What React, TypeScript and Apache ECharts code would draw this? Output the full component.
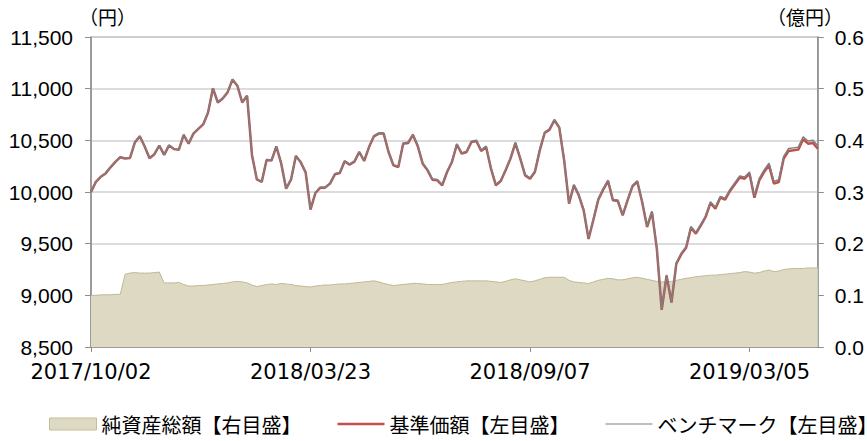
import React, { useEffect, useRef } from 'react';
import * as echarts from 'echarts';

const tickLabels = ['2017/10/02', '2018/03/23', '2018/09/07', '2019/03/05'];
const TICK_STEP = 45;

const nav = [
  10000, 10098, 10147, 10180, 10239, 10291, 10337, 10324, 10330, 10480,
  10539, 10441, 10327, 10366, 10448, 10359, 10451, 10415, 10408, 10552,
  10467, 10565, 10611, 10654, 10770, 11003, 10866, 10905, 10964, 11088,
  11029, 10866, 10931, 10359, 10121, 10098, 10310, 10304, 10440, 10274,
  10032, 10119, 10348, 10287, 10190, 9830, 9990, 10042, 10042, 10081,
  10171, 10184, 10297, 10265, 10294, 10387, 10300, 10435, 10539, 10565,
  10565, 10387, 10258, 10242, 10468, 10474, 10552, 10442, 10274, 10210,
  10119, 10113, 10065, 10194, 10290, 10460, 10371, 10387, 10484, 10494,
  10397, 10436, 10226, 10065, 10106, 10210, 10323, 10474, 10323, 10161,
  10129, 10194, 10403, 10571, 10603, 10694, 10623, 10306, 9887, 10065,
  9968, 9823, 9545, 9732, 9926, 10023, 10106, 9919, 9913, 9774,
  9919, 10055, 10100, 9900, 9661, 9806, 9450, 8860, 9190, 8930,
  9306, 9397, 9461, 9655, 9597, 9674, 9758, 9894, 9839, 9945,
  9926, 10010, 10074, 10139, 10129, 10177, 9945, 10113, 10194, 10258,
  10081, 10097, 10323, 10397, 10403, 10410, 10510, 10468, 10474, 10419,
];

const benchmark = [
  10000, 10100, 10148, 10183, 10240, 10293, 10340, 10326, 10333, 10482,
  10542, 10443, 10330, 10368, 10451, 10361, 10454, 10418, 10410, 10555,
  10470, 10568, 10614, 10656, 10774, 11006, 10869, 10908, 10967, 11092,
  11032, 10870, 10934, 10362, 10125, 10101, 10314, 10307, 10444, 10278,
  10036, 10123, 10352, 10291, 10194, 9835, 9995, 10046, 10047, 10086,
  10176, 10189, 10302, 10270, 10299, 10392, 10305, 10440, 10545, 10571,
  10571, 10393, 10264, 10248, 10474, 10481, 10559, 10449, 10281, 10217,
  10126, 10120, 10072, 10201, 10297, 10467, 10378, 10395, 10492, 10502,
  10405, 10444, 10234, 10073, 10114, 10218, 10331, 10482, 10331, 10169,
  10137, 10202, 10411, 10579, 10611, 10702, 10631, 10314, 9895, 10073,
  9976, 9831, 9554, 9741, 9935, 10032, 10115, 9928, 9922, 9783,
  9928, 10064, 10109, 9909, 9670, 9815, 9459, 8862, 9199, 8933,
  9316, 9407, 9471, 9666, 9608, 9686, 9770, 9906, 9852, 9958,
  9940, 10025, 10089, 10155, 10145, 10194, 9963, 10131, 10213, 10278,
  10101, 10118, 10345, 10420, 10427, 10434, 10535, 10494, 10500, 10448,
];

const netAssets = [
  0.100, 0.100, 0.101, 0.101, 0.101, 0.102, 0.102, 0.141, 0.143, 0.144,
  0.143, 0.143, 0.143, 0.144, 0.145, 0.124, 0.124, 0.124, 0.125, 0.121,
  0.118, 0.118, 0.119, 0.119, 0.120, 0.121, 0.122, 0.123, 0.124, 0.126,
  0.127, 0.126, 0.124, 0.120, 0.117, 0.119, 0.121, 0.122, 0.121, 0.123,
  0.122, 0.121, 0.119, 0.118, 0.117, 0.116, 0.118, 0.119, 0.120, 0.120,
  0.121, 0.122, 0.122, 0.123, 0.124, 0.125, 0.126, 0.127, 0.128, 0.126,
  0.123, 0.121, 0.119, 0.120, 0.121, 0.122, 0.123, 0.123, 0.122, 0.121,
  0.121, 0.121, 0.121, 0.123, 0.125, 0.126, 0.127, 0.128, 0.128, 0.128,
  0.128, 0.128, 0.127, 0.126, 0.125, 0.127, 0.130, 0.132, 0.130, 0.128,
  0.126, 0.128, 0.131, 0.134, 0.135, 0.135, 0.135, 0.135, 0.129, 0.126,
  0.125, 0.124, 0.123, 0.126, 0.129, 0.131, 0.133, 0.132, 0.130, 0.130,
  0.132, 0.134, 0.135, 0.133, 0.131, 0.129, 0.127, 0.126, 0.126, 0.127,
  0.129, 0.131, 0.133, 0.134, 0.136, 0.137, 0.138, 0.139, 0.139, 0.140,
  0.141, 0.142, 0.143, 0.144, 0.146, 0.145, 0.143, 0.144, 0.147, 0.149,
  0.146, 0.147, 0.150, 0.151, 0.152, 0.152, 0.152, 0.153, 0.153, 0.153,
];

const categories = nav.map((_, i) => String(i));

const seriesNames = ['純資産総額【右目盛】', '基準価額【左目盛】', 'ベンチマーク【左目盛】'];

const AXIS_GRAY = '#8C8C8C';

export default function App() {
  const ref = useRef<HTMLDivElement>(null);
  useEffect(() => {
    const chart = echarts.init(ref.current!, null, { renderer: 'svg' });
    chart.setOption({
      animation: false,
      backgroundColor: '#ffffff',
      grid: {
        left: 91,
        right: 45,
        top: 37,
        bottom: 94,
        show: true,
        borderColor: AXIS_GRAY,
        borderWidth: 1,
        containLabel: false,
      },
      graphic: [
        {
          type: 'text',
          left: 79,
          top: 7,
          style: { text: '（円）', fontSize: 19, fontFamily: 'Noto Sans CJK JP', fill: '#000' },
        },
        {
          type: 'text',
          left: 767,
          top: 7,
          style: { text: '（億円）', fontSize: 19, fontFamily: 'Noto Sans CJK JP', fill: '#000' },
        },
      ],
      legend: {
        left: 44,
        top: 409,
        width: 900,
        itemWidth: 47,
        itemHeight: 12,
        itemGap: 36,
        textStyle: { fontSize: 20, fontFamily: 'Noto Sans CJK JP', color: '#000' },
        data: [
          { name: seriesNames[0], icon: 'rect', itemStyle: { color: '#DDD9C3', borderColor: '#C4BD97', borderWidth: 1 } },
          { name: seriesNames[1], icon: 'path://M0,0H40V2H0Z', itemStyle: { color: '#C0504D', borderWidth: 0 } },
          { name: seriesNames[2], icon: 'path://M0,0H50V1.3H0Z', itemStyle: { color: '#7F7F7F', borderWidth: 0 } },
        ],
      },
      xAxis: {
        type: 'category',
        data: categories,
        boundaryGap: false,
        axisLine: { show: true, lineStyle: { color: AXIS_GRAY, width: 1.5 } },
        axisTick: { show: true, interval: TICK_STEP - 1, length: 5, lineStyle: { color: AXIS_GRAY } },
        axisLabel: {
          interval: TICK_STEP - 1,
          formatter: (_v: string, idx: number) => tickLabels[idx / TICK_STEP] ?? '',
          fontSize: 21,
          fontFamily: 'DejaVu Sans',
          color: '#000',
          margin: 14,
        },
        splitLine: { show: false },
      },
      yAxis: [
        {
          type: 'value',
          position: 'left',
          min: 8500,
          max: 11500,
          interval: 500,
          axisLine: { show: true, lineStyle: { color: AXIS_GRAY, width: 1.5 } },
          axisTick: { show: true, length: 6, lineStyle: { color: AXIS_GRAY } },
          axisLabel: {
            formatter: (v: number) => v.toLocaleString('en-US'),
            fontSize: 21,
            fontFamily: 'Liberation Sans',
            color: '#000',
            margin: 18,
          },
          splitLine: { show: true, lineStyle: { color: '#D0D0D0', width: 1.5 } },
        },
        {
          type: 'value',
          position: 'right',
          min: 0,
          max: 0.6,
          interval: 0.1,
          axisLine: { show: true, lineStyle: { color: AXIS_GRAY, width: 1.5 } },
          axisTick: { show: true, length: 6, lineStyle: { color: AXIS_GRAY } },
          axisLabel: {
            formatter: (v: number) => v.toFixed(1),
            fontSize: 21,
            fontFamily: 'Liberation Sans',
            color: '#000',
            margin: 17,
          },
          splitLine: { show: false },
        },
      ],
      series: [
        {
          name: seriesNames[0],
          type: 'line',
          yAxisIndex: 1,
          data: netAssets,
          symbol: 'none',
          lineStyle: { color: '#BFB995', width: 1 },
          areaStyle: { color: '#DDD9C3', opacity: 1 },
          itemStyle: { color: '#DDD9C3' },
          z: 1,
        },
        {
          name: seriesNames[1],
          type: 'line',
          yAxisIndex: 0,
          data: nav,
          symbol: 'none',
          lineStyle: { color: '#C0504D', width: 2.5 },
          itemStyle: { color: '#C0504D' },
          z: 2,
        },
        {
          name: seriesNames[2],
          type: 'line',
          yAxisIndex: 0,
          data: benchmark,
          symbol: 'none',
          lineStyle: { color: '#7F7F7F', width: 1.5 },
          itemStyle: { color: '#7F7F7F' },
          z: 3,
        },
      ],
    });
    return () => chart.dispose();
  }, []);
  return <div ref={ref} style={{ position: 'fixed', left: 0, top: 0, width: 867, height: 441 }} />;
}
